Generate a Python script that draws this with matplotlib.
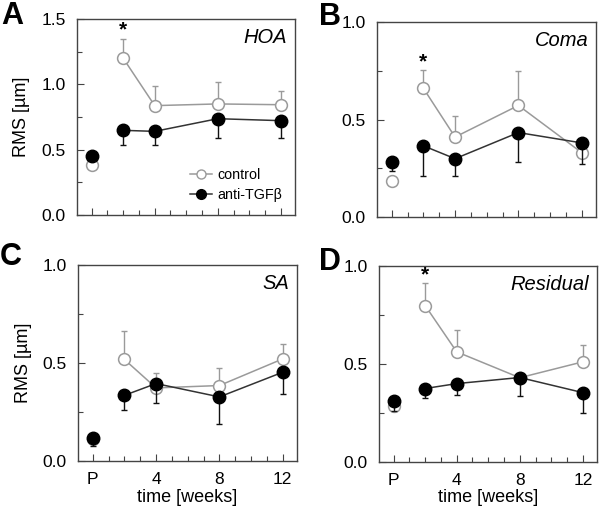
import numpy as np
import matplotlib
matplotlib.use("Agg")
import matplotlib.pyplot as plt
from matplotlib.ticker import MultipleLocator, FixedLocator
from matplotlib.lines import Line2D

plt.rcParams['font.family'] = ['Liberation Sans', 'DejaVu Sans']

# ---- data ----
x_pos = [0, 2, 4, 8, 12]
x_tick_pos = [0, 4, 8, 12]
x_tick_labels = ["P", "4", "8", "12"]

panel_letters = ["A", "B", "C", "D"]
panel_titles = ["HOA", "Coma", "SA", "Residual"]
ylims = [1.5, 1.0, 1.0, 1.0]

control_A = [0.385, 1.20, 0.837, 0.85, 0.844]
control_err_A = [0.0, 0.15, 0.153, 0.168, 0.106]
anti_A = [0.449, 0.648, 0.64, 0.737, 0.722]
anti_err_A = [0.0, 0.11, 0.107, 0.148, 0.133]

control_B = [0.186, 0.66, 0.41, 0.572, 0.33]
control_err_B = [0.0, 0.095, 0.106, 0.176, 0.0]
anti_B = [0.284, 0.365, 0.299, 0.433, 0.38]
anti_err_B = [0.048, 0.156, 0.09, 0.149, 0.108]

control_C = [0.11, 0.518, 0.373, 0.385, 0.521]
control_err_C = [0.0, 0.147, 0.077, 0.092, 0.076]
anti_C = [0.119, 0.335, 0.395, 0.327, 0.453]
anti_err_C = [0.045, 0.076, 0.097, 0.137, 0.113]

control_D = [0.286, 0.798, 0.562, 0.43, 0.511]
control_err_D = [0.0, 0.116, 0.113, 0.0, 0.085]
anti_D = [0.311, 0.375, 0.40, 0.431, 0.354]
anti_err_D = [0.05, 0.05, 0.056, 0.094, 0.102]

star_panels = [True, True, False, True]

controls = [control_A, control_B, control_C, control_D]
control_errs = [control_err_A, control_err_B, control_err_C, control_err_D]
antis = [anti_A, anti_B, anti_C, anti_D]
anti_errs = [anti_err_A, anti_err_B, anti_err_C, anti_err_D]

# ---- figure ----
fig = plt.figure(figsize=(6.0, 5.09), dpi=100)
boxes = [
    (77, 19, 295, 215),
    (377, 22, 596, 217),
    (78, 265, 297, 461),
    (379, 266, 597, 462),
]
W, H = 600, 509
letter_pos = [(1, 24), (319, 25), (0, 265), (319, 270)]

ctrl_color = "#9a9a9a"
anti_color = "#111111"
spine_color = "#444444"

for i in range(4):
    l, t, r, b = boxes[i]
    ax = fig.add_axes([l / W, 1 - b / H, (r - l) / W, (b - t) / H])
    x = np.array(x_pos, dtype=float)
    c = np.array(controls[i])
    ce = np.array(control_errs[i])
    a = np.array(antis[i])
    ae = np.array(anti_errs[i])

    # error bars (one-sided)
    ax.errorbar(x, c, yerr=[np.zeros_like(ce), ce], fmt='none', ecolor=ctrl_color,
                elinewidth=1.0, capsize=2.5, capthick=1.0, zorder=1)
    ax.errorbar(x, a, yerr=[ae, np.zeros_like(ae)], fmt='none', ecolor=anti_color,
                elinewidth=1.0, capsize=2.5, capthick=1.0, zorder=3)
    # connecting lines (weeks only)
    ax.plot(x[1:], c[1:], '-', color=ctrl_color, lw=1.1, zorder=2)
    ax.plot(x[1:], a[1:], '-', color="#333333", lw=1.1, zorder=4)
    # markers
    ax.plot(x, c, 'o', ms=8.5, mfc='white', mec=ctrl_color, mew=1.1, ls='none', zorder=2.5)
    ax.plot(x, a, 'o', ms=9, mfc='black', mec='black', ls='none', zorder=5)

    ax.set_xlim(-0.93, 12.9)
    ax.set_ylim(0, ylims[i])
    ax.xaxis.set_major_locator(FixedLocator(x_tick_pos))
    ax.xaxis.set_minor_locator(MultipleLocator(1))
    ax.yaxis.set_major_locator(MultipleLocator(0.5))
    ax.yaxis.set_minor_locator(MultipleLocator(0.25))
    ax.tick_params(which='both', direction='in', top=False, right=False,
                   color=spine_color, labelsize=12.5, pad=8)
    ax.tick_params(which='major', length=5, width=0.8)
    ax.tick_params(which='minor', length=3.5, width=0.8)
    ax.set_yticks([v * 0.5 for v in range(int(ylims[i] / 0.5) + 1)])
    ax.set_yticklabels(["%.1f" % (v * 0.5) for v in range(int(ylims[i] / 0.5) + 1)])
    if i >= 2:
        ax.set_xticklabels(x_tick_labels)
        ax.set_xlabel("time [weeks]", fontsize=13, labelpad=1)
    else:
        ax.set_xticklabels([])
    if i % 2 == 0:
        ax.set_ylabel("RMS [µm]", fontsize=13, labelpad=8)
    for s in ax.spines.values():
        s.set_color(spine_color)
        s.set_linewidth(1.0)

    ax.text(0.965, 0.955, panel_titles[i], transform=ax.transAxes, ha='right', va='top',
            fontsize=14.5, style='italic')

    if star_panels[i]:
        ax.annotate("*", xy=(x[1], c[1] + ce[1]), xytext=(0, 2), textcoords='offset points',
                    ha='center', va='baseline', fontsize=15, fontweight='bold')

    if i == 0:
        h1 = Line2D([], [], color=ctrl_color, marker='o', mfc='white', mec=ctrl_color, ms=6.5, lw=1.1)
        h2 = Line2D([], [], color="#333333", marker='o', mfc='black', mec='black', ms=7, lw=1.1)
        ax.legend([h1, h2], ["control", "anti-TGFβ"], loc='lower right', frameon=False,
                  fontsize=10.3, handlelength=1.5, handletextpad=0.4, numpoints=1,
                  borderaxespad=0.5, labelspacing=0.45)

    lx, ly = letter_pos[i]
    fig.text(lx / W, 1 - ly / H, panel_letters[i], fontsize=22, fontweight='bold',
             ha='left', va='baseline')

fig.savefig("out.png", dpi=100)
